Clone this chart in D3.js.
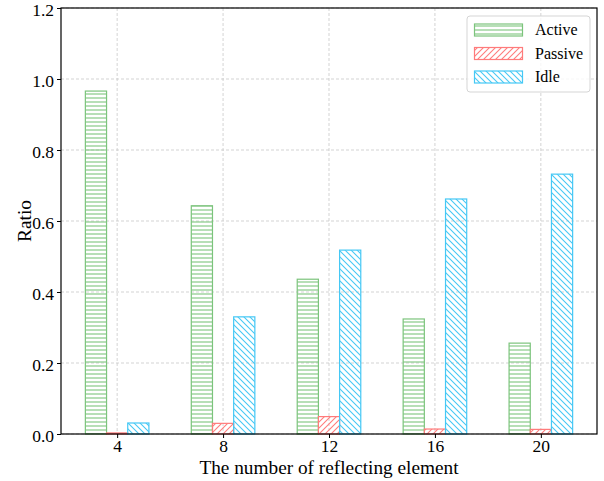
<!DOCTYPE html>
<html>
<head>
<meta charset="utf-8">
<script src="https://cdn.jsdelivr.net/npm/d3@7"></script>
<style>
  html, body { margin: 0; padding: 0; background: #fff; }
  svg text { font-family: "Liberation Serif", "Times New Roman", "DejaVu Serif", serif; }
</style>
</head>
<body>
<svg id="chart" width="604" height="481"></svg>
<script>
// Number of reflecting elements on the x axis
const categories = ["4", "8", "12", "16", "20"];
// Share of elements in each state
const activeValues  = [0.966, 0.643, 0.436, 0.324, 0.256];
const passiveValues = [0.003, 0.030, 0.049, 0.014, 0.013];
const idleValues    = [0.031, 0.330, 0.518, 0.662, 0.732];
const seriesNames = ["Active", "Passive", "Idle"];
const yTicks = [0.0, 0.2, 0.4, 0.6, 0.8, 1.0, 1.2];

const FONT = "'Liberation Serif', 'Times New Roman', 'DejaVu Serif', serif";
const TICK_SIZE = 17.5;

const series = [
  { name: seriesNames[0], values: activeValues,  color: "#7cc47c", hatch: "h" },
  { name: seriesNames[1], values: passiveValues, color: "#ff7b7b", hatch: "f" },
  { name: seriesNames[2], values: idleValues,    color: "#45c8f5", hatch: "b" }
];

const svg = d3.select("#chart");
const W = 604, H = 481;
const m = { left: 61, right: 7, top: 8, bottom: 47 };
const pw = W - m.left - m.right;
const ph = H - m.top - m.bottom;

// hatch patterns
const defs = svg.append("defs");
series.forEach((s, i) => {
  if (s.hatch === "h") {
    const p = defs.append("pattern").attr("id", "hatch" + i)
      .attr("patternUnits", "userSpaceOnUse").attr("width", 8).attr("height", 4);
    p.append("line").attr("x1", 0).attr("x2", 8).attr("y1", 2).attr("y2", 2)
      .attr("stroke", s.color).attr("stroke-width", 1.1);
  } else {
    const k = 6;
    const p = defs.append("pattern").attr("id", "hatch" + i)
      .attr("patternUnits", "userSpaceOnUse").attr("width", k).attr("height", k);
    const segs = s.hatch === "f"
      ? [[0, k, k, 0], [-k, k, k, -k], [0, 2 * k, 2 * k, 0]]
      : [[0, 0, k, k], [-k, 0, k, 2 * k], [0, -k, 2 * k, k]];
    segs.forEach(d => p.append("line")
      .attr("x1", d[0]).attr("y1", d[1]).attr("x2", d[2]).attr("y2", d[3])
      .attr("stroke", s.color).attr("stroke-width", 1.1));
  }
});

const g = svg.append("g").attr("transform", `translate(${m.left},${m.top})`);

// x positions in group units, with matplotlib-like margins
const x = d3.scaleLinear().domain([-0.53, categories.length - 1 + 0.53]).range([0, pw]);
const y = d3.scaleLinear().domain([0, 1.2]).range([ph, 0]);
const barW = 0.2;

// grid
const grid = g.append("g").attr("stroke", "#c8c8c8").attr("stroke-dasharray", "3,2").attr("stroke-width", 0.8);
yTicks.forEach(t => grid.append("line").attr("x1", 0).attr("x2", pw).attr("y1", y(t)).attr("y2", y(t)));
categories.forEach((c, i) => grid.append("line").attr("x1", x(i)).attr("x2", x(i)).attr("y1", 0).attr("y2", ph));

// bars
series.forEach((s, si) => {
  const off = (si - 1) * barW;
  g.append("g").selectAll("rect").data(s.values).join("rect")
    .attr("x", (d, i) => x(i + off - barW / 2))
    .attr("width", x(barW) - x(0))
    .attr("y", d => y(d))
    .attr("height", d => y(0) - y(d))
    .attr("fill", `url(#hatch${si})`)
    .attr("stroke", s.color)
    .attr("stroke-width", 1.2);
});

// axes
const xAxis = d3.axisBottom(x).tickValues(d3.range(categories.length))
  .tickFormat(i => categories[i]).tickSize(4).tickPadding(2);
const yAxis = d3.axisLeft(y).tickValues(yTicks).tickFormat(d3.format(".1f")).tickSize(4).tickPadding(3);

const gx = g.append("g").attr("transform", `translate(0,${ph})`).call(xAxis);
const gy = g.append("g").call(yAxis);
[gx, gy].forEach(a => {
  a.attr("font-family", FONT).attr("font-size", TICK_SIZE);
  a.select(".domain").remove();
  a.selectAll("line").attr("stroke", "#000").attr("stroke-width", 1);
  a.selectAll("text").attr("font-family", FONT).attr("font-size", TICK_SIZE).attr("fill", "#000");
});
gy.selectAll("text").attr("dy", "0.44em");

// frame
g.append("rect").attr("x", 0).attr("y", 0).attr("width", pw).attr("height", ph)
  .attr("fill", "none").attr("stroke", "#000").attr("stroke-width", 1.2);

// axis titles
svg.append("text").attr("x", m.left + pw / 2).attr("y", 473.5)
  .attr("text-anchor", "middle").attr("font-family", FONT).attr("font-size", 19.3)
  .text("The number of reflecting element");
svg.append("text").attr("transform", `translate(31,${m.top + ph / 2}) rotate(-90)`)
  .attr("text-anchor", "middle").attr("font-family", FONT).attr("font-size", 19.3).text("Ratio");

// legend
const lg = svg.append("g").attr("transform", "translate(467,16)");
lg.append("rect").attr("x", 0).attr("y", 0).attr("width", 123).attr("height", 76)
  .attr("rx", 3).attr("fill", "#fff").attr("fill-opacity", 0.8)
  .attr("stroke", "#d5d5d5").attr("stroke-width", 1);
series.forEach((s, i) => {
  const yy = 8 + i * 23.5;
  lg.append("rect").attr("x", 7.5).attr("y", yy).attr("width", 48).attr("height", 12)
    .attr("fill", `url(#hatch${i})`).attr("stroke", s.color).attr("stroke-width", 1.2);
  lg.append("text").attr("x", 68).attr("y", yy + 11).attr("font-family", FONT)
    .attr("font-size", 16).text(s.name);
});
</script>
</body>
</html>
